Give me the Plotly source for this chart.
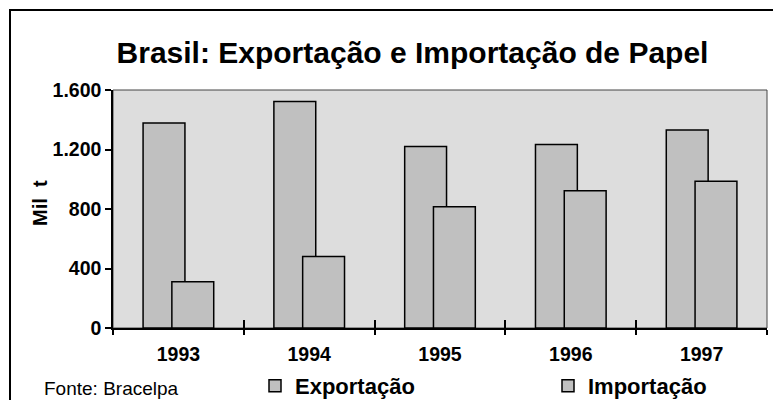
import plotly.graph_objects as go

years = ["1993", "1994", "1995", "1996", "1997"]
exportacao = [1378, 1523, 1221, 1234, 1331]
importacao = [311, 481, 815, 923, 986]
y_tickvals = [0, 400, 800, 1200, 1600]
y_ticktext = ["0", "400", "800", "1.200", "1.600"]

FONT = "Liberation Sans, Arial, sans-serif"
BAR = "#c0c0c0"

# The page body has an 8px default margin; the figure is sized/placed so that
# screen coordinates line up with the reference.
OFF = 8
W, H = 781 - OFF, 400 - OFF
# plot area in screen pixels
SX0, SX1, SY0, SY1 = 113, 767, 90, 328
L = SX0 - OFF
R = W - (SX1 - OFF)
T = SY0 - OFF
B = H - (SY1 - OFF)
pw = SX1 - SX0
ph = SY1 - SY0


def px_x(s):
    return (s - SX0) / pw


def px_y(s):
    return (SY1 - s) / ph


fig = go.Figure()
fig.add_trace(go.Bar(
    x=years, y=exportacao, name="Exportação",
    width=0.32, offset=-0.27,
    marker=dict(color=BAR, line=dict(color="black", width=1.5)),
    legend="legend", showlegend=True,
))
fig.add_trace(go.Bar(
    x=years, y=importacao, name="Importação",
    width=0.32, offset=-0.05,
    marker=dict(color=BAR, line=dict(color="black", width=1.5)),
    xaxis="x2", legend="legend2", showlegend=True,
))

fig.update_layout(
    width=W, height=H,
    margin=dict(l=L, r=R, t=T, b=B, autoexpand=False),
    paper_bgcolor="white",
    plot_bgcolor="#dddddd",
    barmode="overlay",
    showlegend=True,
    font=dict(family=FONT, color="black"),
    title=dict(
        text="<b>Brasil: Exportação e Importação de Papel</b>",
        font=dict(size=30, family=FONT, color="black"),
        xref="container", yref="container",
        x=(412.5 - OFF) / W, xanchor="center",
        y=1 - (52 - OFF) / H, yanchor="middle",
    ),
    xaxis=dict(
        type="category", range=[-0.5, 4.5],
        tickson="boundaries", ticks="outside", ticklen=5, tickwidth=1.5,
        tickcolor="black",
        showline=True, linecolor="black", linewidth=2,
        showgrid=False, zeroline=False,
        tickfont=dict(size=19.5, family=FONT, color="black", weight="bold"),
        ticklabelstandoff=8,
        fixedrange=True,
    ),
    xaxis2=dict(
        type="category", range=[-0.5, 4.5], overlaying="x", anchor="y",
        side="bottom",
        tickson="boundaries", ticks="inside", ticklen=8, tickwidth=1.5,
        tickcolor="black",
        showticklabels=False, showline=False, showgrid=False, zeroline=False,
        fixedrange=True,
    ),
    yaxis=dict(
        range=[0, 1600], tickvals=y_tickvals, ticktext=y_ticktext,
        ticks="outside", ticklen=6, tickwidth=1.5, tickcolor="black",
        showline=True, linecolor="black", linewidth=1.5,
        showgrid=False, zeroline=False,
        tickfont=dict(size=19.5, family=FONT, color="black", weight="bold"),
        fixedrange=True,
    ),
    legend=dict(
        x=px_x(255), xanchor="left", y=px_y(386), yanchor="middle",
        font=dict(size=22, family=FONT, color="black", weight="bold"),
        bgcolor="rgba(0,0,0,0)", borderwidth=0, visible=True,
    ),
    legend2=dict(
        x=px_x(548), xanchor="left", y=px_y(386), yanchor="middle",
        font=dict(size=22, family=FONT, color="black", weight="bold"),
        bgcolor="rgba(0,0,0,0)", borderwidth=0, visible=True,
    ),
    shapes=[
        dict(type="rect", xref="paper", yref="paper", x0=0, x1=1, y0=0, y1=1,
             line=dict(color="#444444", width=1), layer="below"),
        dict(type="rect", xref="paper", yref="paper",
             x0=px_x(10), x1=px_x(800), y0=px_y(420), y1=px_y(10),
             line=dict(color="black", width=2), layer="below"),
    ],
    annotations=[
        dict(text="Fonte: Bracelpa", xref="paper", yref="paper",
             x=px_x(42), xanchor="left", y=px_y(388), yanchor="middle",
             showarrow=False, font=dict(size=19, family=FONT, color="black")),
        dict(text="<b>Mil\u00a0\u00a0t</b>", xref="paper", yref="paper",
             x=px_x(40), xanchor="center", y=px_y(203), yanchor="middle",
             textangle=-90, showarrow=False,
             font=dict(size=20, family=FONT, color="black")),
    ],
)

fig.write_html("out.html")
